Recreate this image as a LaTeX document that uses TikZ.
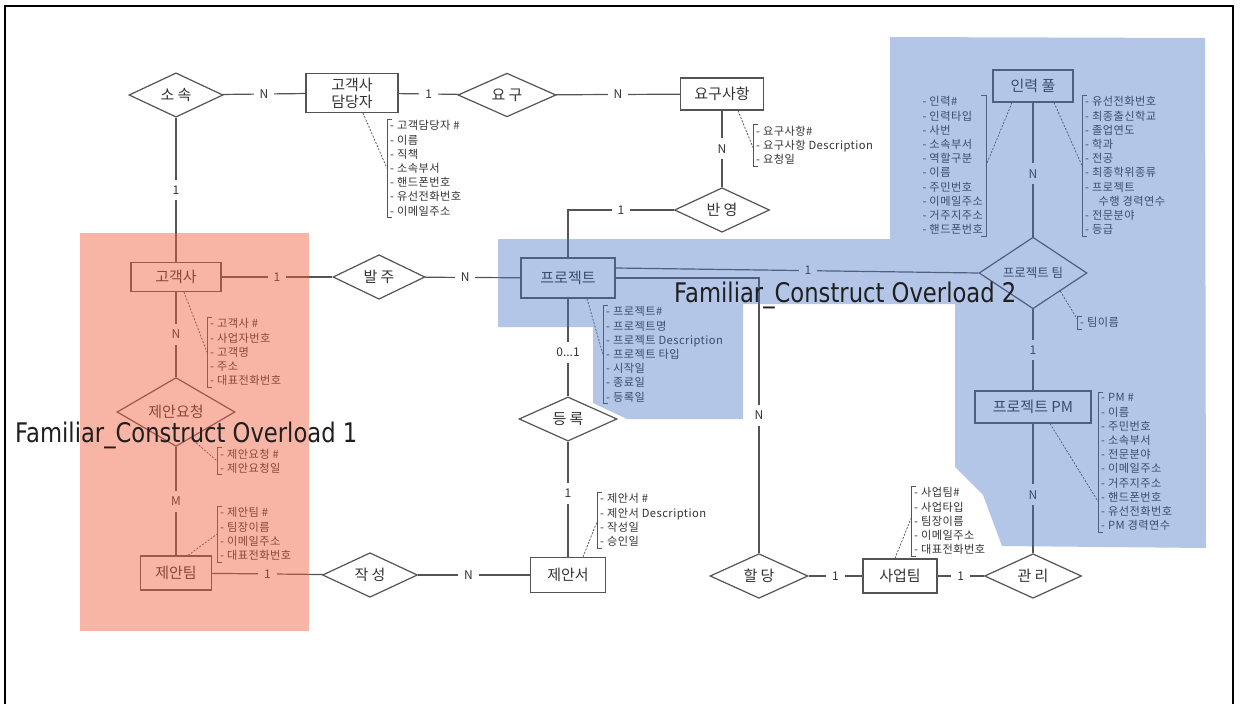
\documentclass[tikz,border=0pt]{standalone}
\usepackage{fontspec}
\usepackage{graphicx}
\setmainfont{Noto Sans CJK KR}
\newfontfamily\ovfamily{DejaVu Sans}
\usetikzlibrary{shapes.geometric,calc}

\definecolor{ink}{RGB}{52,52,52}
\definecolor{edgegray}{RGB}{84,84,84}
\definecolor{hlblue}{RGB}{68,114,196}
\definecolor{hlsalmon}{RGB}{240,95,60}

\newcommand\entfont{\fontsize{15}{17}\selectfont}
\newcommand\cardfont{\fontsize{12}{13}\selectfont}
\newcommand\attrfont{\fontsize{11.2}{14.2}\selectfont\addfontfeature{LetterSpace=4}}
\newcommand\teamfont{\fontsize{12.5}{14}\selectfont}
\newcommand\ovfont{\ovfamily\fontsize{27}{30}\selectfont}

% attribute brackets: opening to the right / to the left
\newcommand\lbrk[1]{\draw[brk] ([xshift=5pt]#1.north west) -- (#1.north west) -- (#1.south west) -- ([xshift=5pt]#1.south west);}
\newcommand\rbrk[1]{\draw[brk] ([xshift=-5pt]#1.north east) -- (#1.north east) -- (#1.south east) -- ([xshift=-5pt]#1.south east);}

\tikzset{
  ent/.style={draw=edgegray, line width=1.2pt, fill=white, text=ink, font=\entfont, inner sep=0pt, align=center},
  rel/.style={diamond, aspect=1, draw=edgegray, line width=1.2pt, fill=white, text=ink, font=\entfont, inner sep=0pt},
  lnk/.style={draw=edgegray, line width=1.2pt},
  card/.style={fill=white, text=ink, font=\cardfont, inner sep=6pt},
  attr/.style={text=ink, font=\attrfont, align=left, inner xsep=3pt, inner ysep=1.5pt},
  brk/.style={draw=edgegray, line width=0.75pt},
  dsh/.style={draw=edgegray, line width=0.75pt, dash pattern=on 2pt off 1.5pt},
  ov/.style={text=black!88, font=\ovfont, inner sep=0pt}
}

\begin{document}
\begin{tikzpicture}[x=1pt,y=-1pt]
\useasboundingbox (0,0) rectangle (1240,704);
\fill[white] (0,0) rectangle (1240,704);

% page frame
\draw[line width=2pt] (5,704) -- (5,6) -- (1233,6) -- (1233,704);

% ---------- entities and relationships ----------
\node[rel, minimum width=94, minimum height=38] (sosok) at (176,95) {소 속};
\node[ent, minimum width=92, minimum height=39] (gdd) at (352,93) {고객사\\담당자};
\node[rel, minimum width=98, minimum height=40] (yogu) at (507,95) {요 구};
\node[ent, minimum width=83, minimum height=32] (req) at (722,94) {요구사항};
\node[rel, minimum width=95, minimum height=38] (bany) at (722,210) {반 영};

\node[ent, minimum width=90, minimum height=29] (cust) at (176,277) {고객사};
\node[rel, minimum width=92, minimum height=38] (balj) at (379,277) {발 주};
\node[ent, minimum width=94, minimum height=40] (proj) at (568,278) {프로젝트};

\node[rel, minimum width=118, minimum height=37] (jreq) at (176,412) {제안요청};
\node[ent, minimum width=71, minimum height=34] (jteam) at (176,573) {제안팀};
\node[rel, minimum width=95, minimum height=38] (jak) at (370,575) {작 성};
\node[ent, minimum width=75, minimum height=35] (jdoc) at (568,575) {제안서};
\node[rel, minimum width=98, minimum height=38] (reg) at (568,419) {등 록};

\node[rel, minimum width=98, minimum height=38] (hal) at (759,576) {할 당};
\node[ent, minimum width=74, minimum height=34] (biz) at (900,576) {사업팀};
\node[rel, minimum width=97, minimum height=38] (gwan) at (1033,576) {관 리};

\node[ent, minimum width=116, minimum height=32] (pm) at (1033,407) {프로젝트 PM};
\node[rel, minimum width=108, minimum height=38, font=\teamfont] (pteam) at (1033,273) {프로젝트 팀};
\node[ent, minimum width=80, minimum height=32] (pool) at (1033,86) {인력 풀};

% ---------- connectors with cardinalities ----------
\draw[lnk] (sosok) -- node[card]{N} (gdd);
\draw[lnk] (sosok) -- node[card]{1} (cust);
\draw[lnk] (gdd) -- node[card]{1} (yogu);
\draw[lnk] (yogu) -- node[card]{N} (req);
\draw[lnk] (req) -- node[card]{N} (bany);
\draw[lnk] (bany.west) -- node[card]{1} (bany.west -| proj.north) -- (proj.north);
\draw[lnk] (cust) -- node[card]{1} (balj);
\draw[lnk] (balj) -- node[card, pos=0.42]{N} (proj);
\draw[lnk] ($(proj.east)+(0,-10)$) -- node[card, pos=0.53]{1} (pteam.west);
\draw[lnk] (proj.east) -- (proj.east -| hal.north) -- node[card]{N} (hal.north);
\draw[lnk] (proj) -- node[card, pos=0.55]{0...1} (reg);
\draw[lnk] (reg) -- node[card, pos=0.45]{1} (jdoc);
\draw[lnk] (cust) -- node[card]{N} (jreq);
\draw[lnk] (jreq) -- node[card]{M} (jteam);
\draw[lnk] (jteam) -- node[card]{1} (jak);
\draw[lnk] (jak) -- node[card, pos=0.45]{N} (jdoc);
\draw[lnk] (hal) -- node[card]{1} (biz);
\draw[lnk] (biz) -- node[card]{1} (gwan);
\draw[lnk] (pm) -- node[card, pos=0.55]{N} (gwan);
\draw[lnk] (pteam) -- node[card]{1} (pm);
\draw[lnk] (pool) -- node[card, pos=0.53]{N} (pteam);

% ---------- attribute lists ----------
\node[attr, anchor=north west] (agdd) at (387,119)
  {- 고객담당자 \#\\- 이름\\- 직책\\- 소속부서\\- 핸드폰번호\\- 유선전화번호\\- 이메일주소};
\lbrk{agdd}
\draw[dsh] ($(gdd.south)+(11,0)$) -- (agdd.west);

\node[attr, anchor=north west] (areq) at (753,124)
  {- 요구사항\#\\- 요구사항 Description\\- 요청일};
\lbrk{areq}
\draw[dsh] ($(req.south)+(16,0)$) -- ($(areq.north west)!0.56!(areq.south west)$);

\node[attr, anchor=north east] (apoolL) at (986,95)
  {- 인력\#\\- 인력타입\\- 사번\\- 소속부서\\- 역할구분\\- 이름\\- 주민번호\\- 이메일주소\\- 거주지주소\\- 핸드폰번호};
\rbrk{apoolL}
\draw[dsh] ($(pool.south)+(-21,0)$) -- (apoolL.east);

\node[attr, anchor=north west] (apoolR) at (1082,95)
  {- 유선전화번호\\- 최종출신학교\\- 졸업연도\\- 학과\\- 전공\\- 최종학위종류\\- 프로젝트\\\hspace*{1.2em}수행 경력연수\\- 전문분야\\- 등급};
\lbrk{apoolR}
\draw[dsh] ($(pool.south)+(21,0)$) -- (apoolR.west);

\node[attr, anchor=north west] (apteam) at (1077,316) {- 팀이름};
\lbrk{apteam}
\draw[dsh] ($(pteam.south)!0.5!(pteam.east)$) -- ($(apteam.north west)!0.2!(apteam.south west)$);

\node[attr, anchor=north west] (apm) at (1098,392)
  {- PM \#\\- 이름\\- 주민번호\\- 소속부서\\- 전문분야\\- 이메일주소\\- 거주지주소\\- 핸드폰번호\\- 유선전화번호\\- PM 경력연수};
\lbrk{apm}
\draw[dsh] ($(pm.south)+(17,0)$) -- ($(apm.north west)!0.78!(apm.south west)$);

\node[attr, anchor=north west] (abiz) at (911,486)
  {- 사업팀\#\\- 사업타입\\- 팀장이름\\- 이메일주소\\- 대표전화번호};
\lbrk{abiz}
\draw[dsh] ($(biz.north)+(-5,0)$) -- ($(abiz.north west)!0.46!(abiz.south west)$);

\node[attr, anchor=north west] (ajdoc) at (597,492)
  {- 제안서 \#\\- 제안서 Description\\- 작성일\\- 승인일};
\lbrk{ajdoc}
\draw[dsh] ($(jdoc.north)+(15,0)$) -- ($(ajdoc.north west)!0.53!(ajdoc.south west)$);

\node[attr, anchor=north west] (aproj) at (603,305)
  {- 프로젝트\#\\- 프로젝트명\\- 프로젝트 Description\\- 프로젝트 타입\\- 시작일\\- 종료일\\- 등록일};
\lbrk{aproj}
\draw[dsh] ($(proj.south)+(19,0)$) -- (aproj.west);

\node[attr, anchor=north west] (acust) at (207,317)
  {- 고객사 \#\\- 사업자번호\\- 고객명\\- 주소\\- 대표전화번호};
\lbrk{acust}
\draw[dsh] ($(cust.south)+(8,0)$) -- (acust.west);

\node[attr, anchor=north west] (ajreq) at (217,447)
  {- 제안요청 \#\\- 제안요청일};
\lbrk{ajreq}
\draw[dsh] ($(jreq.south)!0.25!(jreq.east)$) -- ($(ajreq.north west)!0.5!(ajreq.south west)$);

\node[attr, anchor=north west] (ajteam) at (217,506)
  {- 제안팀 \#\\- 팀장이름\\- 이메일주소\\- 대표전화번호};
\lbrk{ajteam}
\draw[dsh] ($(jteam.north)+(12,0)$) -- (ajteam.west);

% ---------- highlighted overload regions ----------
\fill[hlsalmon, opacity=0.46] (80,233) rectangle (309,631);
\fill[hlblue, opacity=0.4]
  (498,239) -- (890,239) -- (890,37) -- (1205,38) -- (1206,548) -- (1002,546)
  -- (983,495) -- (955,467) -- (955,304) -- (743,304) -- (743,419) -- (627,419)
  -- (593,403) -- (593,327) -- (498,327) -- cycle;

\node[ov, anchor=base west] (ov1) at (15,442) {\scalebox{0.84}[1]{Familiar\_Construct Overload 1}};
\node[ov, anchor=base west] (ov2) at (674,302) {\scalebox{0.84}[1]{Familiar\_Construct Overload 2}};
\end{tikzpicture}
\end{document}
